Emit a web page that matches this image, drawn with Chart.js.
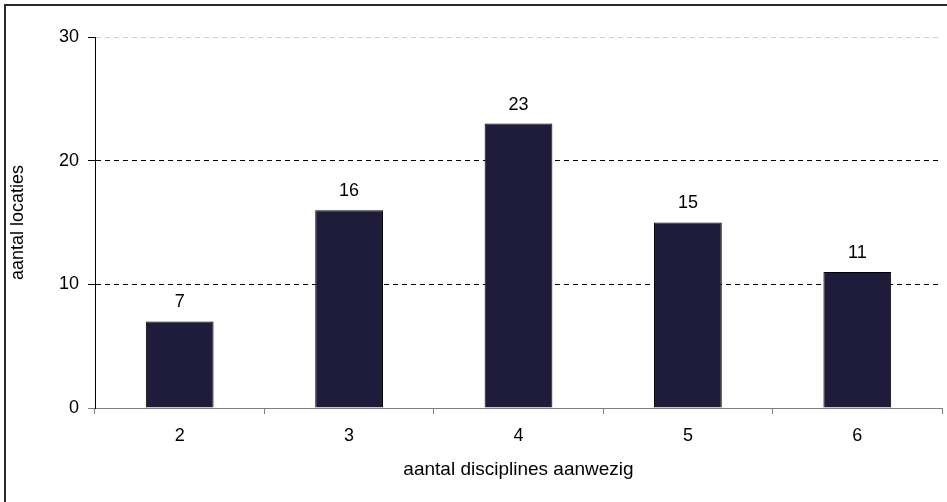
<!DOCTYPE html>
<html>
<head>
<meta charset="utf-8">
<script src="https://cdn.jsdelivr.net/npm/chart.js@4"></script>
<style>
  html, body { margin: 0; padding: 0; background: #fff; }
  #wrap { width: 947px; height: 502px; position: relative; }
</style>
</head>
<body>
<div id="wrap"><canvas id="chart"></canvas></div>
<script>
const categories = ["2", "3", "4", "5", "6"];
const locaties = [7, 16, 23, 15, 11];
const yTicks = [0, 10, 20, 30];

const FONT = "'Liberation Sans', Arial, sans-serif";

// frame lines on top and left, like the original export
const framePlugin = {
    id: 'frame',
    beforeDraw(chart) {
        const c = chart.ctx;
        c.save();
        c.fillStyle = '#fff';
        c.fillRect(0, 0, chart.width, chart.height);
        c.fillStyle = '#2a2a2a';
        c.fillRect(4, 4, chart.width - 4, 2);
        c.fillRect(4, 4, 2, chart.height - 4);
        c.restore();
    }
};

// value labels above each bar
const valueLabels = {
    id: 'valueLabels',
    afterDatasetsDraw(chart) {
        const c = chart.ctx;
        const meta = chart.getDatasetMeta(0);
        c.save();
        c.font = "18px " + FONT;
        c.fillStyle = '#000';
        c.textAlign = 'center';
        c.textBaseline = 'middle';
        meta.data.forEach((bar, i) => {
            c.fillText(String(locaties[i]), bar.x, bar.y - 19);
        });
        c.restore();
    }
};

new Chart(document.getElementById('chart'), {
    type: 'bar',
    data: {
        labels: categories,
        datasets: [{
            data: locaties,
            backgroundColor: '#1f1c3b',
            borderColor: '#000',
            borderWidth: 1,
            barPercentage: 1,
            categoryPercentage: 0.40
        }]
    },
    options: {
        responsive: true,
        maintainAspectRatio: false,
        animation: false,
        layout: { padding: { top: 37, right: 5, left: 0, bottom: 0 } },
        plugins: { legend: { display: false }, tooltip: { enabled: false } },
        scales: {
            x: {
                afterFit: s => { s.height = 94; },
                grid: {
                    offset: true,
                    drawOnChartArea: false,
                    drawTicks: true,
                    tickLength: 6,
                    color: '#808080'
                },
                border: { color: '#808080', width: 1 },
                ticks: { color: '#000', padding: 11, font: { family: FONT, size: 18 } },
                title: {
                    display: true,
                    text: 'aantal disciplines aanwezig',
                    color: '#000',
                    font: { family: FONT, size: 19 },
                    padding: { top: 0, bottom: 21 }
                }
            },
            y: {
                min: 0,
                max: 30,
                afterFit: s => { s.width = 95; },
                afterBuildTicks: s => { s.ticks = yTicks.map(v => ({ value: v })); },
                grid: {
                    tickLength: 7,
                    color: ctx => ctx.tick.value === 30 ? '#cfcfcf' : (ctx.tick.value === 0 ? 'rgba(0,0,0,0)' : '#000'),
                    tickColor: ctx => ctx.tick.value === 0 ? '#808080' : '#000'
                },
                border: { color: '#000', width: 1, dash: [5, 4] },
                ticks: { color: '#000', padding: 9, font: { family: FONT, size: 18 } },
                title: {
                    display: true,
                    text: 'aantal locaties',
                    color: '#000',
                    font: { family: FONT, size: 18 },
                    padding: { top: 7, bottom: 0 }
                }
            }
        }
    },
    plugins: [framePlugin, valueLabels]
});
</script>
</body>
</html>
